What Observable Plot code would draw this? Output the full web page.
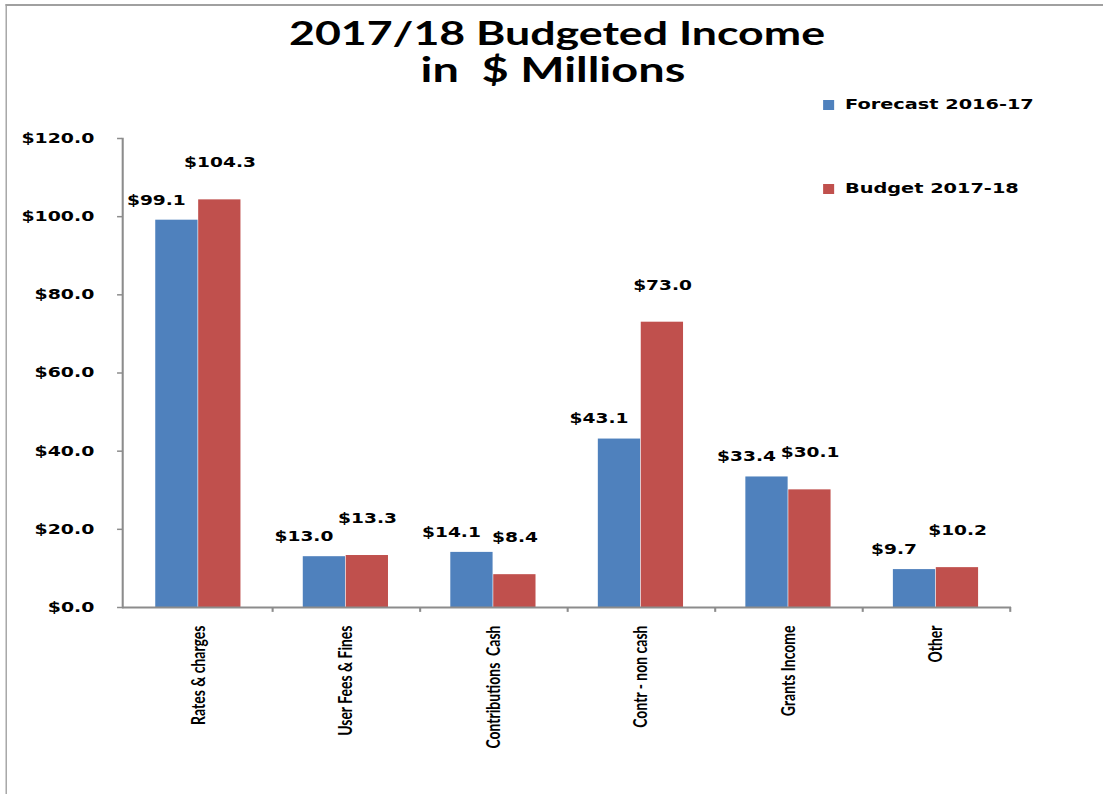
<!DOCTYPE html>
<html>
<head>
<meta charset="utf-8">
<script src="https://cdn.jsdelivr.net/npm/d3@7"></script>
<script src="https://cdn.jsdelivr.net/npm/@observablehq/plot@0.6"></script>
<style>
  html, body { margin: 0; padding: 0; background: #fff; }
  /* the reference is an Excel chart stretched horizontally; reproduce by scaling the page */
  #page { position: relative; width: 800px; height: 794px; transform: scaleX(1.37875); transform-origin: 0 0; overflow: hidden; background: #fff; }
  #frameBorder { position: absolute; left: 3.7px; top: 4px; width: 820px; height: 820px; border-left: 1.5px solid #a0a0a0; border-top: 2px solid #a0a0a0; box-sizing: border-box; }
  .title { position: absolute; left: 4px; width: 800px; text-align: center; font-family: Lato, "Open Sans", sans-serif; font-weight: bold; color: #000; white-space: pre; }
  #chart { position: absolute; left: 0; top: 120px; }
  .legend { position: absolute; left: 596.9px; font-family: "DejaVu Sans", Verdana, sans-serif; font-weight: bold; font-size: 14px; color: #000; white-space: nowrap; line-height: 16px; }
  .legend .sw { display: inline-block; width: 8px; height: 10px; margin-right: 8px; vertical-align: -1px; }
</style>
</head>
<body>
<div id="page">
  <div id="frameBorder"></div>
  <div class="title" style="top:16px;height:34px;line-height:34px;font-size:32.4px">2017/18 Budgeted Income</div>
  <div class="title" style="top:52px;height:34px;line-height:34px;font-size:34px;left:1px">in  $ Millions</div>
  <div id="chart"></div>
  <div class="legend" id="leg0" style="top:96px"></div>
  <div class="legend" id="leg1" style="top:180px"></div>
</div>
<script>
const categories = ["Rates & charges", "User Fees & Fines", "Contributions  Cash", "Contr - non cash", "Grants Income", "Other"];
const seriesNames = ["Forecast 2016-17", "Budget 2017-18"];
const forecast = [99.1, 13.0, 14.1, 43.1, 33.4, 9.7];
const budget = [104.3, 13.3, 8.4, 73.0, 30.1, 10.2];
const yTicks = [0, 20, 40, 60, 80, 100, 120];
const colors = ["#4F81BD", "#C0504D"];

const rowsF = categories.map((c, i) => ({category: c, series: seriesNames[0], value: forecast[i]}));
const rowsB = categories.map((c, i) => ({category: c, series: seriesNames[1], value: budget[i]}));

const W = 800, H = 674;
const mL = 88.5, mR = 66.7, mT = 18, mB = 187;
const bw = (W - mL - mR) / categories.length;
const outerInset = 22.6;
const barCenterOffset = (outerInset - bw / 2) / 2;
const axisGray = "#8c8c8c";
const fmt = d => "$" + d.toFixed(1);

const chart = Plot.plot({
  width: W,
  height: H,
  marginLeft: mL,
  marginRight: mR,
  marginTop: mT,
  marginBottom: mB,
  style: {fontFamily: "'DejaVu Sans', Verdana, sans-serif", fontWeight: "bold", fontSize: "13.7px", color: "#000", background: "transparent"},
  x: {domain: categories, padding: 0},
  y: {domain: [0, 120]},
  marks: [
    Plot.barY(rowsF, {x: "category", y: "value", fill: colors[0], insetLeft: outerInset, insetRight: bw / 2}),
    Plot.barY(rowsB, {x: "category", y: "value", fill: colors[1], insetLeft: bw / 2, insetRight: outerInset}),
    Plot.frame({anchor: "left", stroke: axisGray, strokeWidth: 1.5}),
    Plot.ruleY([0], {stroke: axisGray, strokeWidth: 2}),
    Plot.ruleX(categories, {x: d => d, dx: bw / 2, y1: 0, y2: -1.25, stroke: axisGray, strokeWidth: 1.5}),
    Plot.axisY({ticks: yTicks, tickFormat: fmt, tickSize: 3.6, tickPadding: 17, stroke: axisGray, strokeWidth: 1.5, fill: "#000", label: null}),
    Plot.axisX({tickRotate: -90, tickSize: 0, tickPadding: 18, fontFamily: "Lato, 'Open Sans', sans-serif", fontWeight: "bold", fontSize: 14, fill: "#000", label: null}),
    Plot.text(rowsF, {x: "category", y: "value", text: d => fmt(d.value), dx: barCenterOffset - 15, dy: -20, fontSize: 13.5, fontWeight: "bold", fill: "#000"}),
    Plot.text(rowsB, {x: "category", y: "value", text: d => fmt(d.value), dx: -barCenterOffset, dy: -37, fontSize: 13.5, fontWeight: "bold", fill: "#000"})
  ]
});
document.getElementById("chart").appendChild(chart);

seriesNames.forEach((name, i) => {
  const el = document.getElementById("leg" + i);
  const sw = document.createElement("span");
  sw.className = "sw";
  sw.style.background = colors[i];
  el.appendChild(sw);
  el.appendChild(document.createTextNode(name));
});
</script>
</body>
</html>
